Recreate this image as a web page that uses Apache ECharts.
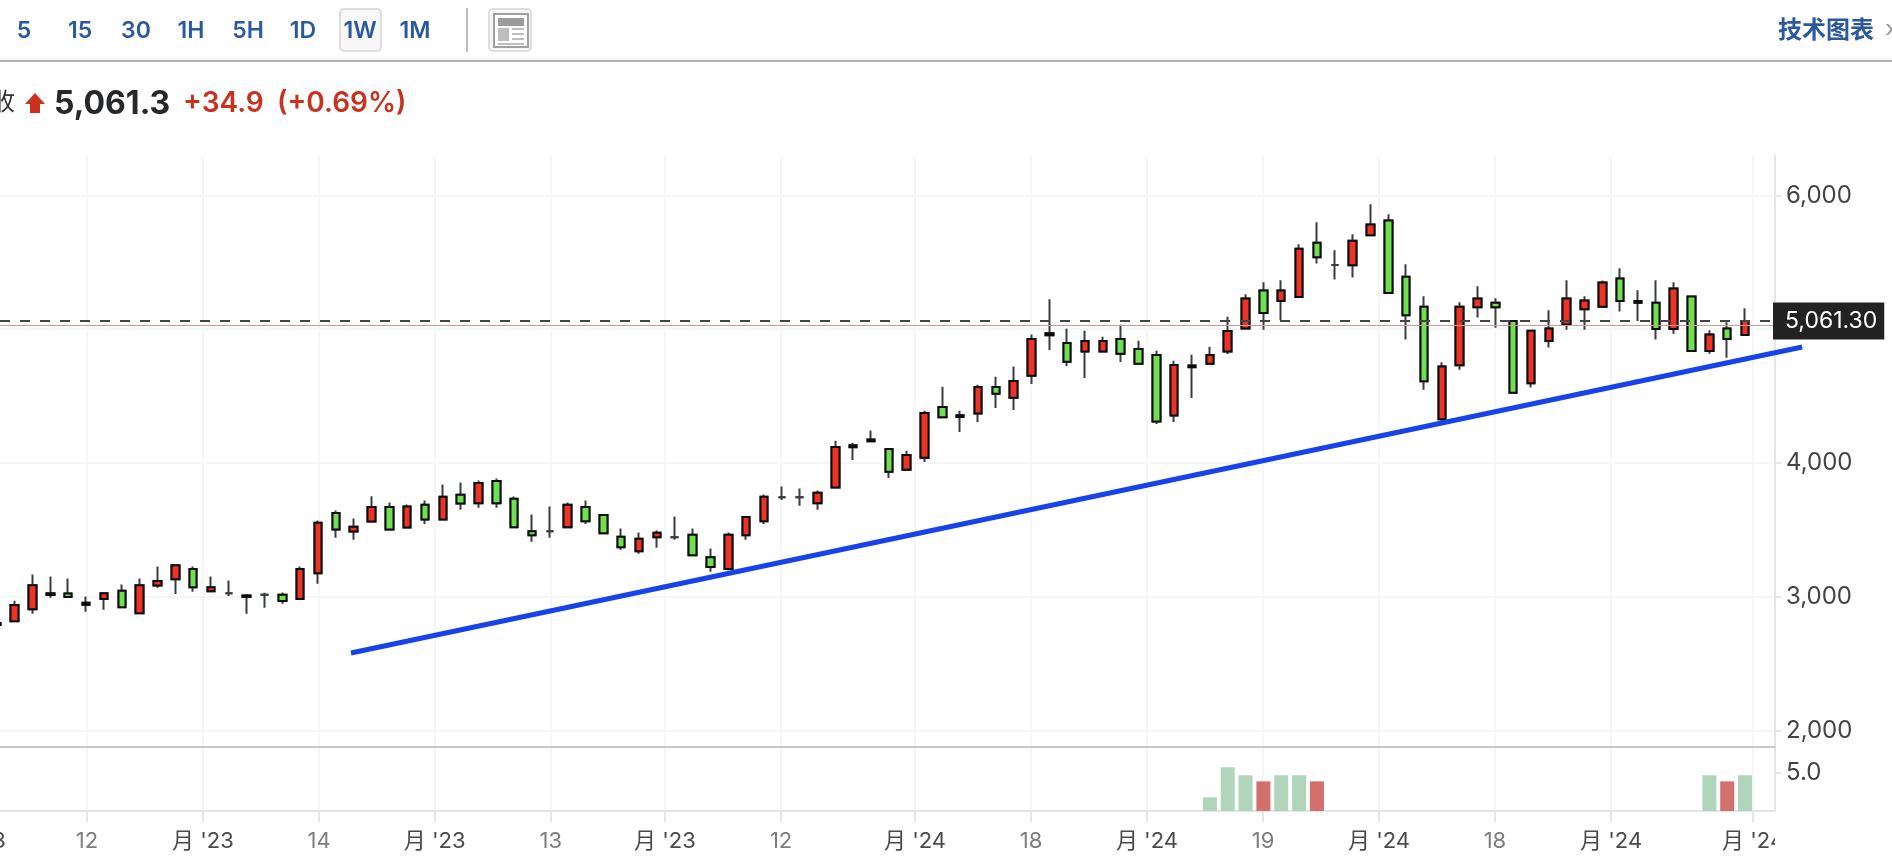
<!DOCTYPE html>
<html>
<head>
<meta charset="utf-8">
<title>5,061.3</title>
<script src="https://cdn.jsdelivr.net/npm/echarts@6/dist/echarts.min.js"></script>
<style>
  html, body { margin: 0; padding: 0; background: #fff; overflow: hidden; }
  #grafico { width: 1892px; height: 860px; }
</style>
</head>
<body>
<div id="grafico"></div>
<script>
// candles, one per week, left to right
const opens = [
  2790, 2818, 2908, 3014, 3025, 2940, 2983, 3045, 2878, 3085,
  3132, 3207, 3042, 3027, 3000, 3015, 3015, 2983, 3177, 3627,
  3488, 3562, 3672, 3518, 3687, 3577, 3762, 3699, 3866, 3732,
  3490, 3490, 3520, 3672, 3612, 3448, 3341, 3446, 3446, 3463,
  3296, 3207, 3460, 3565, 3744, 3744, 3699, 3816, 4118, 4162,
  4105, 3950, 4040, 4418, 4344, 4369, 4568, 4488, 4652, 4955,
  4896, 4832, 4832, 4926, 4852, 4807, 4354, 4716, 4742, 4832,
  5004, 5288, 5210, 5240, 5646, 5479, 5477, 5701, 5811, 5392,
  5168, 4327, 4730, 5163, 5198, 5061, 4595, 4912, 5034, 5149,
  5168, 5378, 5197, 5198, 5001, 5243, 4837, 5004, 4957
];
const closes = [
  2805, 2938, 3087, 3026, 2998, 2955, 3027, 2923, 3087, 3119,
  3236, 3072, 3072, 3027, 3010, 3015, 2968, 3207, 3553, 3503,
  3523, 3672, 3503, 3675, 3577, 3747, 3697, 3851, 3699, 3520,
  3460, 3490, 3687, 3565, 3475, 3371, 3433, 3478, 3446, 3311,
  3222, 3463, 3597, 3747, 3744, 3744, 3777, 4120, 4132, 4175,
  3935, 4060, 4374, 4341, 4356, 4568, 4518, 4613, 4926, 4970,
  4757, 4911, 4911, 4817, 4742, 4309, 4732, 4728, 4807, 4986,
  5228, 5121, 5288, 5601, 5537, 5479, 5661, 5781, 5270, 5104,
  4610, 4720, 5168, 5228, 5163, 4525, 4987, 5004, 5228, 5213,
  5348, 5211, 5210, 5001, 5303, 4837, 4959, 4927, 5061.3
];
const lows = [
  2780, 2813, 2873, 2993, 2993, 2888, 2903, 2918, 2873, 3067,
  3022, 3037, 3037, 3007, 2873, 2918, 2948, 2980, 3097, 3441,
  3426, 3560, 3500, 3515, 3545, 3575, 3650, 3665, 3665, 3518,
  3411, 3441, 3518, 3545, 3473, 3351, 3321, 3366, 3426, 3309,
  3187, 3199, 3426, 3545, 3724, 3680, 3650, 3814, 4022, 4155,
  3888, 3948, 4007, 4339, 4232, 4306, 4411, 4396, 4590, 4844,
  4725, 4635, 4829, 4754, 4740, 4291, 4306, 4486, 4740, 4814,
  5001, 4996, 5066, 5238, 5490, 5370, 5385, 5699, 5268, 4922,
  4548, 4309, 4697, 5086, 5011, 4523, 4563, 4862, 4996, 4996,
  5166, 5131, 5061, 4922, 4966, 4834, 4817, 4787, 4954
];
const highs = [
  2830, 2970, 3167, 3152, 3137, 3002, 3027, 3092, 3137, 3226,
  3236, 3226, 3152, 3122, 3022, 3030, 3032, 3226, 3570, 3645,
  3585, 3752, 3704, 3690, 3719, 3839, 3854, 3869, 3884, 3749,
  3615, 3675, 3704, 3719, 3612, 3510, 3480, 3495, 3600, 3510,
  3361, 3480, 3597, 3764, 3824, 3809, 3794, 4167, 4152, 4242,
  4107, 4092, 4391, 4570, 4391, 4585, 4645, 4720, 4959, 5224,
  5003, 4988, 4944, 5033, 4914, 4839, 4764, 4809, 4869, 5093,
  5260, 5350, 5365, 5634, 5798, 5589, 5709, 5933, 5858, 5484,
  5245, 4752, 5200, 5320, 5230, 5061, 4989, 5141, 5365, 5245,
  5363, 5455, 5290, 5365, 5350, 5243, 4992, 5051, 5156
];

// volume pane: which weeks have a bar
const volumeWeeks = [68, 69, 70, 71, 72, 73, 74, 96, 97, 98];
const volumeValues = [1.8, 5.75, 4.7, 3.9, 4.7, 4.7, 3.9, 4.7, 3.9, 4.7];
const volumeFalling = [false, false, false, true, false, false, true, false, true, false];

// x axis ticks, in weeks
const tickWeeks = [5.05, 11.55, 18.06, 24.54, 31.05, 37.45, 43.96, 51.47, 57.97, 64.47, 70.98, 77.48, 83.98, 90.49, 98.45];
const tickLabels = ['12', "月 '23", '14', "月 '23", '13', "月 '23", '12', "月 '24", '18', "月 '24", '19', "月 '24", '18', "月 '24", "月 '24"];

const priceTicks = [2000, 3000, 4000, 5000, 6000];
const priceLabels = [2000, 3000, 4000, 6000];
const volumeTicks = [5];

const lastPrice = 5061.3;
const previousClose = 5026.4;

// hand drawn support line: [week, price]
const trendLine = [[19.85, 2580], [101.2, 4867]];

const intervals = ['5', '15', '30', '1H', '5H', '1D', '1W', '1M'];
const intervalCenters = [24, 80, 136, 191, 248, 303, 360, 415];

const FONT = 'Inter, "Noto Sans CJK SC", sans-serif';
const BLUE_TEXT = '#2a5a9c';
const RED = '#ee3224';
const GREEN = '#6fe04f';
const GRID_LINE = '#f5f6f8';
const AXIS_LINE = '#e3e5eb';

const X_MIN = 0.174;
const X_MAX = 99.68;
const PRICE_MIN = 1878;
const PRICE_MAX = 6301;

const weeks = opens.map((o, i) => i);
const wicks = weeks.map((w) => [w, opens[w], closes[w], lows[w], highs[w]]);
const bodies = weeks.map((w) => [w, opens[w], closes[w], Math.min(opens[w], closes[w]), Math.max(opens[w], closes[w])]);

function headerText(text, x, y, size, weight, color, align) {
  return {
    type: 'text',
    x: x,
    y: y,
    silent: true,
    style: {
      text: text,
      fill: color,
      font: weight + ' ' + size + 'px ' + FONT,
      align: align || 'center',
      verticalAlign: 'middle'
    }
  };
}

function headerRect(x, y, width, height, fill, stroke, r) {
  return {
    type: 'rect',
    silent: true,
    shape: { x: x, y: y, width: width, height: height, r: r || 0 },
    style: { fill: fill, stroke: stroke || null, lineWidth: stroke ? 2 : 0 }
  };
}

const graphics = [
  headerRect(0, 60, 1892, 2, '#b2b2b2'),
  headerRect(340, 9, 41, 42, '#f7f7f7', '#dddddd', 4),
  headerRect(466, 8, 2, 44, '#bdbdbd'),
  headerRect(489, 9, 42, 42, '#f7f7f7', '#dddddd', 4),
  headerRect(494, 14, 34, 33, '#ffffff', '#a0a0a0'),
  headerRect(498, 18, 26, 8, '#9c9c9c'),
  headerRect(498, 28, 11, 13, '#bdbdbd'),
  headerRect(512, 28, 12, 2, '#bdbdbd'),
  headerRect(512, 33, 12, 2, '#bdbdbd'),
  headerRect(512, 38, 12, 2, '#bdbdbd'),
  headerRect(498, 43, 26, 2, '#bdbdbd'),
  headerText('技术图表', 1778, 31, 24, 'bold', BLUE_TEXT, 'left'),
  headerText('›', 1885, 30, 24, 'normal', '#9a9a9a', 'left'),
  headerText('收', -9, 103, 24, 'normal', '#333333', 'left'),
  {
    type: 'polygon',
    silent: true,
    shape: { points: [[35, 93], [45, 104], [40, 104], [40, 113], [30, 113], [30, 104], [25, 104]] },
    style: { fill: '#c8321e' }
  },
  headerText('5,061.3', 54, 104, 32, 700, '#26282b', 'left'),
  headerText('+34.9', 183, 104, 28, 600, '#c8321e', 'left'),
  headerText('(+0.69%)', 277, 104, 28, 600, '#c8321e', 'left'),
  // label cut off by the price axis and the one before the first visible tick
  headerText("月 '23", -56, 841, 22, 'normal', '#4a4a4a', 'left'),
  Object.assign(headerRect(1775, 826, 117, 30, '#ffffff'), { z: 100 })
];
intervals.forEach((label, i) => {
  graphics.push(headerText(label, intervalCenters[i], 31, 23, 600, BLUE_TEXT));
});

const chartDom = document.getElementById('grafico');
const myChart = echarts.init(chartDom);

const xBase = {
  type: 'value',
  min: X_MIN,
  max: X_MAX,
  axisPointer: { show: false },
  axisTick: { show: false, customValues: tickWeeks },
  axisLabel: { show: false, customValues: tickWeeks },
  splitLine: { show: true, lineStyle: { color: GRID_LINE, width: 2 } }
};

const option = {
  animation: false,
  backgroundColor: '#ffffff',
  graphic: graphics,
  grid: [
    { left: 0, width: 1775, top: 155, height: 592 },
    { left: 0, width: 1775, top: 747, height: 64 },
    // same scale as the price pane but wider, the trend line runs past the axis
    { left: 0, width: 1892, top: 155, height: 592 }
  ],
  xAxis: [
    Object.assign({}, xBase, {
      gridIndex: 0,
      axisLine: { show: true, lineStyle: { color: '#c8c8c8', width: 2 } }
    }),
    Object.assign({}, xBase, {
      gridIndex: 1,
      axisLine: { show: true, lineStyle: { color: AXIS_LINE, width: 2 } },
      axisTick: { show: true, length: 11, customValues: tickWeeks, lineStyle: { color: AXIS_LINE, width: 2 } },
      axisLabel: {
        show: true,
        customValues: tickWeeks,
        margin: 19,
        fontFamily: FONT,
        fontSize: 22,
        color: (value) => {
          const label = tickLabels[tickWeeks.indexOf(Number(value))] || '';
          return label.indexOf('月') >= 0 ? '#4a4a4a' : '#7d7d7d';
        },
        formatter: (value) => tickLabels[tickWeeks.indexOf(value)]
      }
    }),
    {
      type: 'value',
      gridIndex: 2,
      show: false,
      min: X_MIN,
      max: X_MIN + (X_MAX - X_MIN) * 1892 / 1775
    }
  ],
  yAxis: [
    {
      type: 'value',
      gridIndex: 0,
      position: 'right',
      min: PRICE_MIN,
      max: PRICE_MAX,
      axisLine: { show: true, lineStyle: { color: AXIS_LINE, width: 2 } },
      axisTick: { show: true, length: 6, customValues: priceTicks, lineStyle: { color: AXIS_LINE, width: 2 } },
      splitLine: { show: true, lineStyle: { color: GRID_LINE, width: 2 } },
      axisLabel: {
        customValues: priceLabels,
        margin: 11,
        padding: [3, 0, 0, 0],
        fontFamily: FONT,
        fontSize: 24,
        color: '#444444',
        formatter: (value) => value.toLocaleString('en-US')
      }
    },
    {
      type: 'value',
      gridIndex: 1,
      position: 'right',
      min: 0,
      max: 8.42,
      axisLine: { show: true, lineStyle: { color: AXIS_LINE, width: 2 } },
      axisTick: { show: true, length: 6, customValues: volumeTicks, lineStyle: { color: AXIS_LINE, width: 2 } },
      splitLine: { show: false },
      axisLabel: {
        customValues: volumeTicks,
        margin: 11,
        padding: [6, 0, 0, 0],
        fontFamily: FONT,
        fontSize: 24,
        color: '#444444',
        formatter: (value) => value.toFixed(1)
      }
    },
    {
      type: 'value',
      gridIndex: 2,
      show: false,
      min: PRICE_MIN,
      max: PRICE_MAX
    }
  ],
  series: [
    {
      // price lines sit behind the candles
      type: 'line',
      xAxisIndex: 0,
      yAxisIndex: 0,
      z: 1,
      data: [],
      markLine: {
        silent: true,
        symbol: 'none',
        animation: false,
        data: [
          {
            yAxis: previousClose,
            lineStyle: { color: '#d49a98', type: 'solid', width: 1 },
            label: { show: false }
          },
          {
            yAxis: lastPrice,
            lineStyle: { color: '#444444', type: [10, 10], width: 2 },
            label: {
              show: true,
              position: 'end',
              distance: -2,
              formatter: '5,061.30',
              fontFamily: FONT,
              fontSize: 23,
              color: '#ffffff',
              backgroundColor: '#222222',
              padding: [7, 7, 7, 12]
            }
          }
        ]
      }
    },
    {
      // wicks, a bit lighter than the body outline
      name: 'wick',
      type: 'candlestick',
      xAxisIndex: 0,
      yAxisIndex: 0,
      z: 2,
      barWidth: 8,
      data: wicks,
      itemStyle: {
        color: 'transparent',
        color0: 'transparent',
        borderColor: '#3a3d42',
        borderColor0: '#3a3d42',
        borderColorDoji: '#3a3d42',
        borderWidth: 2
      }
    },
    {
      name: 'body',
      type: 'candlestick',
      xAxisIndex: 0,
      yAxisIndex: 0,
      z: 3,
      barWidth: 8,
      data: bodies,
      itemStyle: {
        color: RED,
        color0: GREEN,
        borderColor: '#0c0c0c',
        borderColor0: '#0c0c0c',
        borderColorDoji: '#3a3d42',
        borderWidth: 2
      }
    },
    {
      name: 'trend',
      type: 'line',
      xAxisIndex: 2,
      yAxisIndex: 2,
      z: 4,
      symbol: 'none',
      data: trendLine,
      lineStyle: { color: '#1743ea', width: 5, cap: 'butt' }
    },
    {
      name: 'volume',
      type: 'bar',
      xAxisIndex: 1,
      yAxisIndex: 1,
      barWidth: 14,
      data: volumeWeeks.map((w, i) => ({
        value: [w, volumeValues[i]],
        itemStyle: { color: volumeFalling[i] ? '#d2706d' : '#b0d5bb' }
      }))
    }
  ]
};

myChart.setOption(option);
</script>
</body>
</html>
